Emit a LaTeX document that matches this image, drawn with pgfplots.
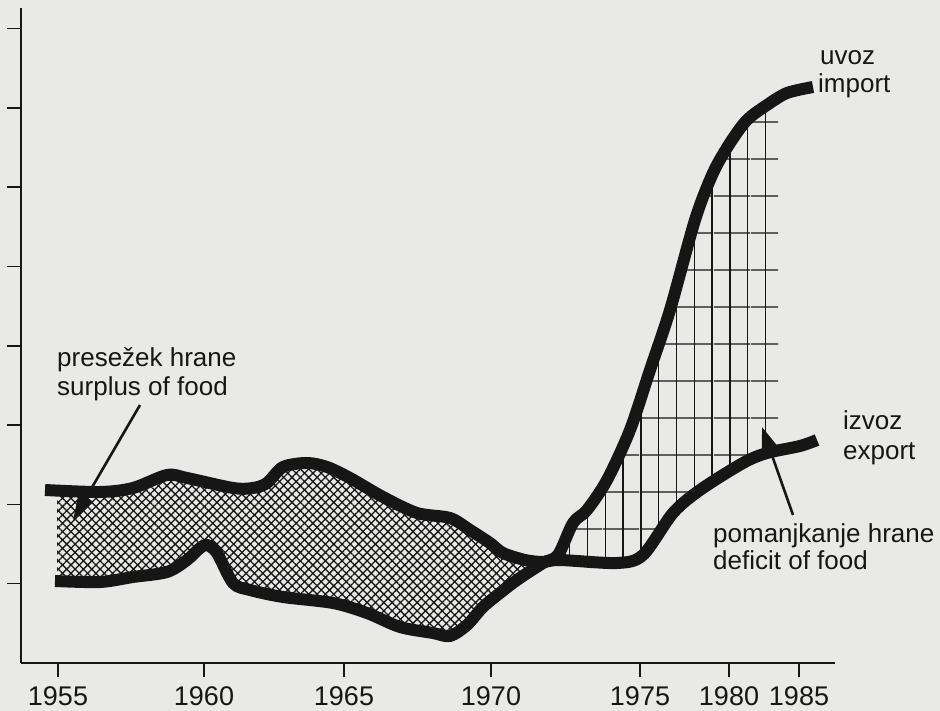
\documentclass[border=0pt]{standalone}
\usepackage{fontspec}
\setmainfont{Liberation Sans}
\usepackage{xcolor}
\usepackage{pgfplots}
\usepackage{pgfplotstable}
\pgfplotsset{compat=1.18}
\usepgfplotslibrary{fillbetween}
\usetikzlibrary{patterns.meta,arrows.meta}

\definecolor{paper}{RGB}{233,233,231}
\definecolor{ink}{RGB}{22,22,22}
\pagecolor{paper}

% x: position along the time axis, y: height above the x axis
\pgfplotstableread{
x y
45 173
100 171
133 175
167 188
187 185
233 175
253 175
267 180
283 196
307 200
327 196
350 185
383 166
417 150
450 145
470 133
490 120
503 110
525 103
543 101
560 103
617 100
643 108
673 150
700 173
743 200
767 210
800 217
817 223
}\izvoz

\pgfplotstableread{
x y
55 82
100 81
133 86
167 91
187 103
200 115
207 118
217 110
233 80
250 73
283 66
333 60
367 50
400 36
433 30
450 27
467 38
483 56
500 70
517 83
543 100
558 108
573 140
587 153
607 183
630 233
650 293
670 353
695 443
713 490
730 520
747 543
767 558
787 570
813 576
}\uvoz

\newcommand{\lab}{\fontsize{26bp}{30bp}\selectfont}

\begin{document}
\begin{tikzpicture}
\path (0,0) rectangle (940bp,711bp);
\begin{axis}[
    at={(21bp,48bp)}, anchor=south west,
    scale only axis, width=814bp, height=655bp,
    xmin=21, xmax=835, ymin=0, ymax=655,
    axis lines=left,
    axis line style={ink, line width=1.5bp, -},
    tick align=outside,
    major tick length=14bp,
    tick style={ink, line width=1.5bp},
    xtick={58,204,344,491,640,729,799},
    xticklabels={1955,1960,1965,1970,1975,1980,1985},
    ytick={79.3,158.6,237.9,317.2,396.5,475.8,555.1,634.4},
    yticklabels={},
    ticklabel style={font=\fontsize{27bp}{30bp}\selectfont, text=ink},
    xticklabel style={yshift=-6bp},
    /pgf/number format/assume math mode=true,
    clip=false,
]
\addplot[draw=none, name path=exp] table {\izvoz};
\addplot[draw=none, name path=imp] table {\uvoz};

% surplus: crosshatch
\addplot[on layer=main, pattern={Lines[angle=45,distance=5.9bp,line width=1.3bp]}, pattern color=ink]
    fill between[of=exp and imp, soft clip={domain=57:546}];
\addplot[on layer=main, pattern={Lines[angle=-45,distance=5.9bp,line width=1.3bp]}, pattern color=ink]
    fill between[of=exp and imp, soft clip={domain=57:546}];
% deficit: grid, cut off at the top and right
\begin{scope}
\clip (axis cs:548,0) rectangle (axis cs:778,535);
\addplot[on layer=main, pattern={Lines[angle=90,distance=17.8bp,line width=1.4bp]}, pattern color=ink]
    fill between[of=imp and exp, soft clip={domain=548:778}];
\addplot[on layer=main, pattern={Lines[angle=0,distance=36.5bp,line width=1.4bp]}, pattern color=ink]
    fill between[of=imp and exp, soft clip={domain=548:778}];
\end{scope}

\addplot[ink, line width=12bp, smooth] table {\izvoz};
\addplot[ink, line width=12bp, smooth] table {\uvoz};

\draw[ink, line width=2.6bp, -{Triangle[length=26bp,width=16bp]}]
    (axis cs:140,258) -- (axis cs:73,143);
\draw[ink, line width=2.6bp, -{Triangle[length=26bp,width=18bp]}]
    (axis cs:793,148) -- (axis cs:762,236);

\node[anchor=base west, inner sep=0, text=ink, font=\lab] at (axis cs:820,598) {uvoz};
\node[anchor=base west, inner sep=0, text=ink, font=\lab] at (axis cs:818,570) {import};
\node[anchor=base west, inner sep=0, text=ink, font=\lab] at (axis cs:843,233) {izvoz};
\node[anchor=base west, inner sep=0, text=ink, font=\lab] at (axis cs:843,203) {export};
\node[anchor=base west, inner sep=0, text=ink, font=\lab] at (axis cs:713,120) {pomanjkanje hrane};
\node[anchor=base west, inner sep=0, text=ink, font=\lab] at (axis cs:713,93) {deficit of food};
\node[anchor=base west, inner sep=0, text=ink, font=\lab] at (axis cs:57,296) {presežek hrane};
\node[anchor=base west, inner sep=0, text=ink, font=\lab] at (axis cs:57,267) {surplus of food};
\end{axis}
\pgfresetboundingbox
\path (0,0) rectangle (940bp,711bp);
\end{tikzpicture}
\end{document}
